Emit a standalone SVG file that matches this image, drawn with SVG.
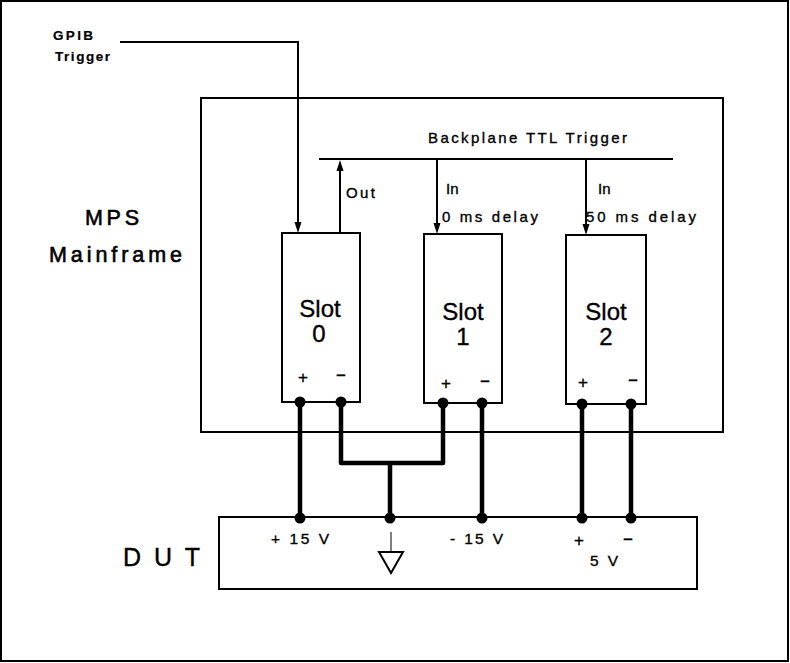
<svg xmlns="http://www.w3.org/2000/svg" width="790" height="663" viewBox="0 0 790 663">
<style>
text{font-family:"Liberation Sans",Arial,sans-serif;fill:#000;stroke:#000;stroke-width:0.35}
.box{fill:none;stroke:#000;stroke-width:2}
.thin{fill:none;stroke:#000;stroke-width:2}
.thick{fill:none;stroke:#000;stroke-width:4.5;stroke-linejoin:round}
.dot{fill:#000}
.lbl{font-size:15px}
.slot{font-size:24px;text-anchor:middle}
.pm{font-size:17px;text-anchor:middle}
</style>
<rect x="0" y="0" width="790" height="663" fill="#fff"/>
<rect x="1" y="1" width="787" height="660" fill="none" stroke="#000" stroke-width="2"/>

<g id="mainframe">
<rect class="box" x="201" y="98" width="522" height="334"/>
<text x="85" y="225" font-size="21.5" style="stroke-width:0.6" textLength="54" lengthAdjust="spacing">MPS</text>
<text x="49" y="262" font-size="21.5" style="stroke-width:0.6" textLength="133" lengthAdjust="spacing">Mainframe</text>
</g>

<g id="backplane">
<line class="thin" x1="319" y1="159" x2="673" y2="159"/>
<text class="lbl" x="428" y="143" textLength="199" lengthAdjust="spacing">Backplane TTL Trigger</text>
</g>

<g id="gpib">
<text x="53" y="40" font-size="13.5" font-weight="bold" style="stroke-width:0.2" textLength="40" lengthAdjust="spacing">GPIB</text>
<text x="55" y="61" font-size="13.5" font-weight="bold" style="stroke-width:0.2" textLength="55" lengthAdjust="spacing">Trigger</text>
</g>

<g id="slot0">
<rect class="box" x="282" y="233" width="78" height="169"/>
<text class="slot" x="320" y="317">Slot</text>
<text class="slot" x="319" y="342">0</text>
<text class="pm" x="303" y="383">+</text>
<text class="pm" x="341" y="381">−</text>
</g>

<g id="slot1">
<rect class="box" x="424" y="234" width="78" height="169"/>
<text class="slot" x="463" y="320">Slot</text>
<text class="slot" x="463" y="345">1</text>
<text class="pm" x="446" y="389">+</text>
<text class="pm" x="485" y="387">−</text>
</g>

<g id="slot2">
<rect class="box" x="566" y="235" width="80" height="169"/>
<text class="slot" x="606" y="320">Slot</text>
<text class="slot" x="606" y="345">2</text>
<text class="pm" x="583" y="388">+</text>
<text class="pm" x="633" y="386">−</text>
</g>

<g id="dut">
<rect class="box" x="219" y="517" width="478" height="72"/>
<text x="123" y="566" font-size="25" textLength="77" lengthAdjust="spacing">D U T</text>
<text x="271" y="544" font-size="15.5" textLength="58" lengthAdjust="spacing">+ 15 V</text>
<text x="450" y="544" font-size="15.5" textLength="53" lengthAdjust="spacing">- 15 V</text>
<text class="pm" x="579" y="546">+</text>
<text class="pm" x="628" y="545">−</text>
<text x="590" y="566" font-size="15.5" textLength="28" lengthAdjust="spacing">5 V</text>
<line x1="391" y1="532" x2="391" y2="552" stroke="#000" stroke-width="1"/>
<path d="M379,552 L403,552 L391,573 z" fill="none" stroke="#000" stroke-width="2" stroke-linejoin="miter"/>
</g>

<g id="connectors">
<path class="thin" d="M120,42 L298,42 L298,222"/>
<path d="M294.5,222 L301.5,222 L298,233 z" fill="#000"/>
<line class="thin" x1="340" y1="233" x2="340" y2="170"/>
<path d="M336.5,171 L343.5,171 L340,160 z" fill="#000"/>
<text class="lbl" x="346" y="198" textLength="29" lengthAdjust="spacing">Out</text>
<line class="thin" x1="437" y1="159" x2="437" y2="223"/>
<path d="M433.5,223 L440.5,223 L437,234 z" fill="#000"/>
<text class="lbl" x="446" y="194">In</text>
<text class="lbl" x="442" y="222" textLength="96" lengthAdjust="spacing">0 ms delay</text>
<line class="thin" x1="586" y1="159" x2="586" y2="224"/>
<path d="M582.5,224 L589.5,224 L586,235 z" fill="#000"/>
<text class="lbl" x="598" y="194">In</text>
<text class="lbl" x="586" y="222" textLength="110" lengthAdjust="spacing">50 ms delay</text>

<line class="thick" x1="300" y1="402" x2="300" y2="519"/>
<path class="thick" d="M341,402 L341,463 L443,463 L443,403"/>
<line class="thick" x1="390" y1="463" x2="390" y2="519"/>
<line class="thick" x1="482" y1="403" x2="482" y2="519"/>
<line class="thick" x1="582" y1="404" x2="582" y2="519"/>
<line class="thick" x1="631" y1="404" x2="631" y2="519"/>

<circle class="dot" cx="300" cy="402" r="5.5"/>
<circle class="dot" cx="341" cy="402" r="5.5"/>
<circle class="dot" cx="443" cy="403" r="5.5"/>
<circle class="dot" cx="482" cy="403" r="5.5"/>
<circle class="dot" cx="582" cy="404" r="5.5"/>
<circle class="dot" cx="631" cy="404" r="5.5"/>
<circle class="dot" cx="300" cy="518" r="5.5"/>
<circle class="dot" cx="390" cy="518" r="5.5"/>
<circle class="dot" cx="482" cy="518" r="5.5"/>
<circle class="dot" cx="582" cy="518" r="5.5"/>
<circle class="dot" cx="631" cy="518" r="5.5"/>
</g>
</svg>
